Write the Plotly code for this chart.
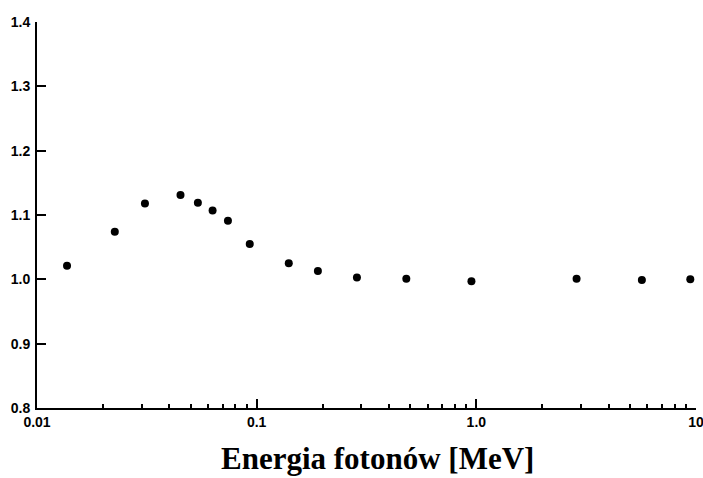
import plotly.graph_objects as go

energy_mev = [0.0137, 0.0226, 0.031, 0.045, 0.054, 0.063, 0.074, 0.093, 0.14, 0.19,
              0.286, 0.48, 0.95, 2.86, 5.67, 9.42]
ratio = [1.021, 1.074, 1.118, 1.131, 1.119, 1.107, 1.091, 1.055, 1.025, 1.013,
         1.003, 1.001, 0.997, 1.001, 0.999, 1.000]

x_tickvals = [0.01, 0.1, 1.0, 10]
x_ticktext = ["0.01", "0.1", "1.0", "10"]
x_minor = [m * d for d in [0.01, 0.1, 1.0] for m in range(2, 10)]
y_tickvals = [0.8, 0.9, 1.0, 1.1, 1.2, 1.3, 1.4]
x_title = "Energia fotonów [MeV]"

fig = go.Figure()
fig.add_trace(go.Scatter(
    x=energy_mev, y=ratio, mode="markers",
    marker=dict(color="black", size=8),
    showlegend=False, hoverinfo="x+y",
))

tickfont = dict(family="Liberation Sans, Arial, sans-serif", size=14, color="black", weight="bold")

fig.update_layout(
    width=703, height=478,
    margin=dict(l=37, r=7, t=22, b=70),
    paper_bgcolor="white", plot_bgcolor="white",
    xaxis=dict(
        type="log", range=[-2, 1], automargin=False,
        tickvals=x_tickvals, ticktext=x_ticktext, ticklabeloverflow="allow",
        ticks="inside", ticklen=9, tickwidth=2, tickcolor="black",
        minor=dict(tickvals=x_minor, ticks="inside", ticklen=4, tickwidth=1.5, tickcolor="black"),
        showline=True, linecolor="black", linewidth=2,
        showgrid=False, zeroline=False,
        tickfont=tickfont, ticklabelstandoff=0,
    ),
    yaxis=dict(
        range=[0.8, 1.4], automargin=False,
        tickvals=y_tickvals, tickformat=".1f", ticklabeloverflow="allow",
        ticks="inside", ticklen=9, tickwidth=2, tickcolor="black",
        showline=True, linecolor="black", linewidth=2,
        showgrid=False, zeroline=False,
        tickfont=tickfont, ticklabelstandoff=2,
    ),
    annotations=[dict(
        text=x_title, xref="paper", yref="paper", x=0.517, y=0,
        xanchor="center", yanchor="top", yshift=-31, showarrow=False,
        font=dict(family="Liberation Serif, Times New Roman, serif", size=31,
                  color="black", weight="bold"),
    )],
)

fig.write_html("out.html")
